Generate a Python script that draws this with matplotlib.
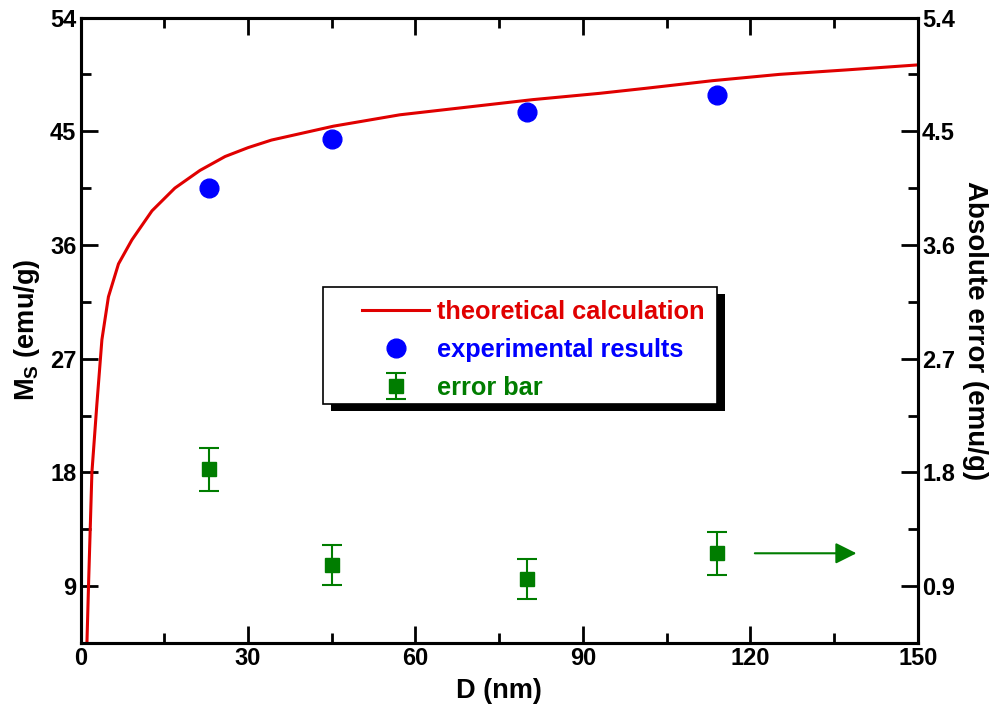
import numpy as np
import matplotlib
matplotlib.use("Agg")
import matplotlib.pyplot as plt
from matplotlib.patches import Rectangle
from matplotlib.ticker import MultipleLocator, FormatStrFormatter

plt.rcParams['font.family'] = ['Liberation Sans', 'DejaVu Sans']
plt.rcParams['font.weight'] = 'bold'
plt.rcParams['axes.labelweight'] = 'bold'
plt.rcParams['mathtext.fontset'] = 'custom'
plt.rcParams['mathtext.bf'] = 'Liberation Sans:bold'
plt.rcParams['mathtext.rm'] = 'Liberation Sans:bold'

# theoretical curve
theory_d = [1.15, 1.43, 2.04, 2.93, 3.83, 5.0, 6.8, 9.2, 12.8, 16.9, 21.4, 25.9,
            30.0, 34.2, 45.3, 57.2, 69.1, 81.0, 93.0, 101.3, 113.2, 125.2, 137.1, 150.0]
theory_ms = [4.5, 9.0, 18.0, 23.4, 28.5, 31.9, 34.5, 36.4, 38.7, 40.5, 41.9, 43.0,
             43.7, 44.3, 45.4, 46.3, 46.9, 47.5, 48.0, 48.4, 49.0, 49.5, 49.85, 50.25]

# experimental points
exp_d = [23, 45, 80, 114]
exp_ms = [40.5, 44.4, 46.5, 47.9]

# absolute error (right axis) and its error bars
err_val = [1.825, 1.065, 0.955, 1.16]
err_bar = [0.17, 0.16, 0.16, 0.17]

red = '#e00000'
blue = '#0000ff'
green = '#007d00'

fig = plt.figure(figsize=(10.04, 7.09), dpi=100)
ax = fig.add_axes([0.0802, 0.0931, 0.8340, 0.8822])
ax2 = ax.twinx()

l1, = ax.plot(theory_d, theory_ms, color=red, lw=2.2, label='theoretical calculation')
l2, = ax.plot(exp_d, exp_ms, 'o', color=blue, ms=13.5, ls='none', label='experimental results')
eb = ax2.errorbar(exp_d, err_val, yerr=err_bar, fmt='s', color=green, ms=10,
                  capsize=7, elinewidth=1.5, capthick=1.5, label='error bar')

ax2.annotate('', xy=(139.5, err_val[3]), xytext=(120.3, err_val[3]),
             arrowprops=dict(arrowstyle='-|>', color=green, lw=1.5, mutation_scale=32))

ax.set_xlim(0, 150)
ax.set_ylim(4.5, 54)
ax2.set_ylim(0.45, 5.4)

ax.xaxis.set_major_locator(MultipleLocator(30))
ax.xaxis.set_minor_locator(MultipleLocator(15))
ax.yaxis.set_major_locator(MultipleLocator(9))
ax.yaxis.set_minor_locator(MultipleLocator(4.5))
ax2.yaxis.set_major_locator(MultipleLocator(0.9))
ax2.yaxis.set_minor_locator(MultipleLocator(0.45))
ax2.yaxis.set_major_formatter(FormatStrFormatter('%.1f'))

ax.tick_params(which='both', direction='in', top=True, right=False, width=2, labelsize=17, pad=3)
ax.tick_params(which='major', length=12)
ax.tick_params(which='minor', length=7)
ax2.tick_params(which='both', direction='in', width=2, labelsize=17, pad=3)
ax2.tick_params(which='major', length=12)
ax2.tick_params(which='minor', length=7)

for a in (ax, ax2):
    for s in a.spines.values():
        s.set_linewidth(2.2)

ax.set_xlabel('D (nm)', fontsize=19.5, labelpad=6)
ax.set_ylabel(r'$\mathbf{M_S}$ (emu/g)', fontsize=19.5, labelpad=6)
ax2.set_ylabel('Absolute error (emu/g)', fontsize=20, rotation=270, labelpad=24)

# legend box with solid black shadow, drawn in axes coords
box_x0, box_y0, box_w, box_h = 0.2896, 0.3821, 0.4704, 0.1870
ax2.add_patch(Rectangle((box_x0 + 0.0096, box_y0 - 0.0112), box_w, box_h,
                        transform=ax2.transAxes, facecolor='black', edgecolor='none',
                        zorder=8, clip_on=False))
ax2.add_patch(Rectangle((box_x0, box_y0), box_w, box_h, transform=ax2.transAxes,
                        facecolor='white', edgecolor='black', lw=1.2, zorder=9,
                        clip_on=False))

leg = ax2.legend([l1, l2, eb], ['theoretical calculation', 'experimental results', 'error bar'],
                 loc='center left', bbox_to_anchor=(0.336, 0.4684), fontsize=18.3,
                 frameon=False, borderpad=0, borderaxespad=0,
                 handlelength=2.65, handletextpad=0.3, labelspacing=0.55,
                 labelcolor=[red, blue, green])
leg.set_zorder(10)

fig.savefig('out.png', dpi=100)
